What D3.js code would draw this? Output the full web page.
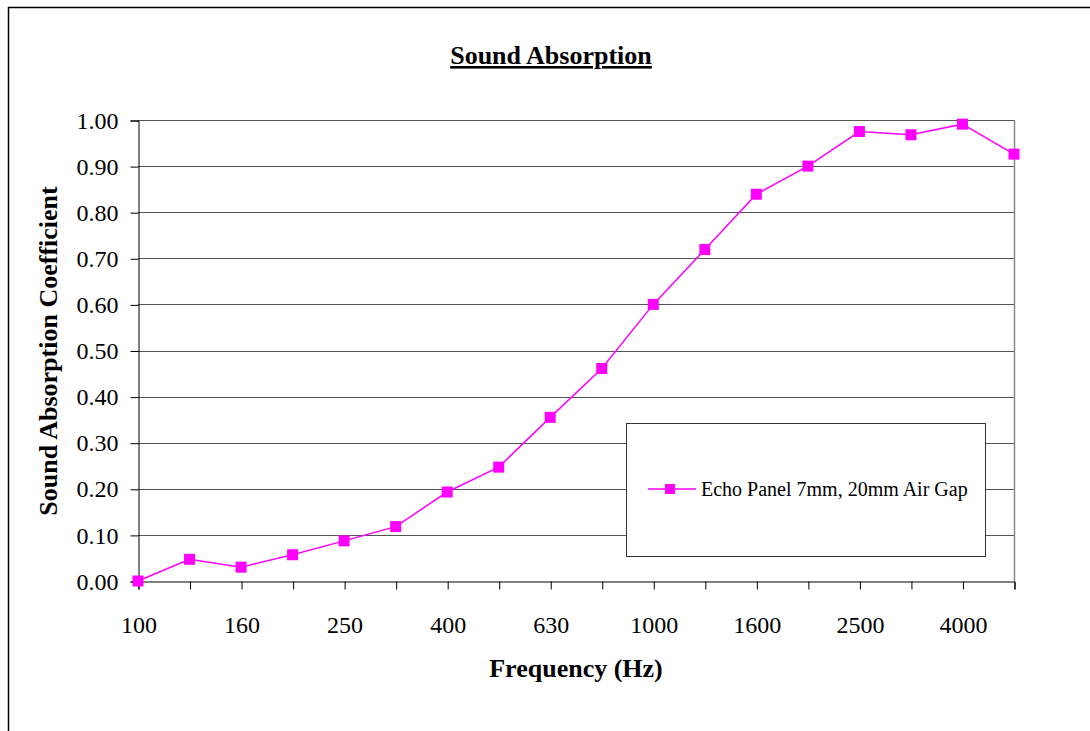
<!DOCTYPE html>
<html>
<head>
<meta charset="utf-8">
<style>
body { margin: 0; background: #fff; }
svg { display: block; font-family: "Liberation Serif", "Times New Roman", serif; }
</style>
</head>
<body>
<div id="chart"></div>
<script src="https://cdn.jsdelivr.net/npm/d3@7"></script>
<script>
// data
var frequencies = ["100", "125", "160", "200", "250", "315", "400", "500", "630",
    "800", "1000", "1250", "1600", "2000", "2500", "3150", "4000", "5000"];
var absorption = [0.00, 0.047, 0.030, 0.057, 0.087, 0.118, 0.193, 0.247, 0.355,
    0.461, 0.600, 0.719, 0.839, 0.900, 0.975, 0.968, 0.991, 0.926];
var yTicks = [0, 0.1, 0.2, 0.3, 0.4, 0.5, 0.6, 0.7, 0.8, 0.9, 1.0];
var seriesName = "Echo Panel 7mm, 20mm Air Gap";

var W = 1090, H = 731;
var plotL = 138, plotR = 1014, plotT = 120, plotB = 581;
var pink = "#ff00ff";

var svg = d3.select("#chart").append("svg")
    .attr("width", W).attr("height", H);

// outer frame
svg.append("rect")
    .attr("x", 8.5).attr("y", 7.5)
    .attr("width", 1100).attr("height", 760)
    .attr("fill", "none").attr("stroke", "#000").attr("stroke-width", 1.5);

var x = d3.scalePoint().domain(frequencies).range([plotL, plotR]);
var y = d3.scaleLinear().domain([0, 1]).range([plotB, plotT]);

// gridlines
svg.append("g").selectAll("line").data(yTicks.slice(1)).enter().append("line")
    .attr("x1", plotL).attr("x2", plotR)
    .attr("y1", d => Math.round(y(d)) + 0.5).attr("y2", d => Math.round(y(d)) + 0.5)
    .attr("stroke", "#555").attr("stroke-width", 1);

// right border of plot
svg.append("line")
    .attr("x1", plotR + 0.5).attr("x2", plotR + 0.5)
    .attr("y1", plotT).attr("y2", plotB)
    .attr("stroke", "#888").attr("stroke-width", 1.5);

// y axis
var yAxis = svg.append("g")
    .attr("transform", "translate(" + (plotL + 0.5) + ",0.5)")
    .call(d3.axisLeft(y).tickValues(yTicks).tickFormat(d3.format(".2f"))
        .tickSizeOuter(0).tickSize(8).tickPadding(12));
yAxis.selectAll("text").attr("font-size", 24).attr("fill", "#000")
    .attr("font-family", "Liberation Serif");
yAxis.selectAll("line, path").attr("stroke", "#000");

// x axis
var xAxis = svg.append("g")
    .attr("transform", "translate(0.5," + (plotB + 0.5) + ")")
    .call(d3.axisBottom(x).tickSizeOuter(0).tickSize(8).tickPadding(26)
        .tickFormat((d, i) => i % 2 === 0 ? d : ""));
xAxis.selectAll("text").attr("font-size", 24).attr("fill", "#000")
    .attr("font-family", "Liberation Serif");
xAxis.selectAll("line, path").attr("stroke", "#000");

// series
var pts = frequencies.map((f, i) => ({f: f, v: absorption[i]}));
svg.append("path").datum(pts)
    .attr("fill", "none").attr("stroke", pink).attr("stroke-width", 1.5)
    .attr("d", d3.line().x(d => x(d.f)).y(d => y(d.v)));
svg.append("g").selectAll("rect").data(pts).enter().append("rect")
    .attr("x", d => x(d.f) - 5.5).attr("y", d => y(d.v) - 5.5)
    .attr("width", 11).attr("height", 11).attr("fill", pink);

// legend
var lg = svg.append("g");
lg.append("rect").attr("x", 626.5).attr("y", 423.5).attr("width", 359).attr("height", 133)
    .attr("fill", "#fff").attr("stroke", "#333").attr("stroke-width", 1);
lg.append("line").attr("x1", 648).attr("x2", 696).attr("y1", 489).attr("y2", 489)
    .attr("stroke", pink).attr("stroke-width", 1.5);
lg.append("rect").attr("x", 665).attr("y", 484).attr("width", 10).attr("height", 10)
    .attr("fill", pink);
lg.append("text").attr("x", 701).attr("y", 496).attr("font-size", 20)
    .text(seriesName);

// titles
svg.append("text").attr("x", 551).attr("y", 64).attr("text-anchor", "middle")
    .attr("font-size", 26).attr("font-weight", "bold")
    .attr("text-decoration", "underline").text("Sound Absorption");
svg.append("text").attr("x", 576).attr("y", 677).attr("text-anchor", "middle")
    .attr("font-size", 26).attr("font-weight", "bold").text("Frequency (Hz)");
svg.append("text").attr("transform", "translate(57,351) rotate(-90)")
    .attr("text-anchor", "middle").attr("font-size", 26).attr("font-weight", "bold")
    .text("Sound Absorption Coefficient");
</script>
</body>
</html>
